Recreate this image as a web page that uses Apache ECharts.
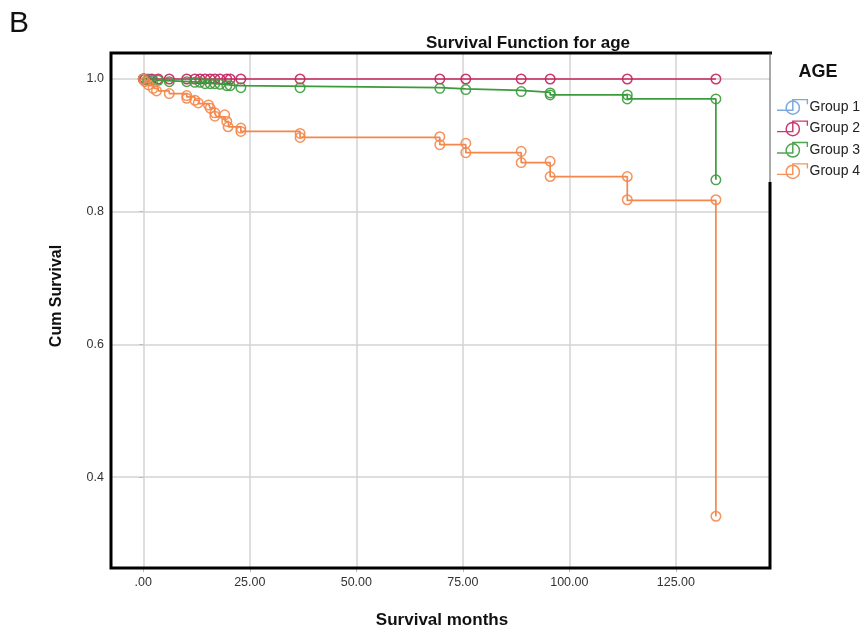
<!DOCTYPE html>
<html>
<head>
<meta charset="utf-8">
<script src="https://cdn.jsdelivr.net/npm/echarts@6/dist/echarts.min.js"></script>
<style>html,body{margin:0;padding:0;background:#fff}#c{width:864px;height:632px}</style>
</head>
<body>
<div id="c"></div>
<script>
// ---- data ----
const groupNames = ['Group 1', 'Group 2', 'Group 3', 'Group 4'];
const xTicks = [0, 25, 50, 75, 100, 125];
const yTicks = [0.4, 0.6, 0.8, 1.0];

// Kaplan-Meier step points [months, cum survival]
const g1Steps = [[0, 1.0], [2.3, 1.0]];
const g1Cens = [[0, 1.0], [1.2, 1.0]];

const g2Steps = [[0, 1.0], [134.4, 1.0]];
const g2Cens = [[0, 1.0], [0.4, 1.0], [2, 1.0], [3.5, 1.0], [6.1, 1.0], [10.2, 1.0], [12.1, 1.0], [13.3, 1.0],
  [14.5, 1.0], [15.7, 1.0], [16.8, 1.0], [18, 1.0], [19.6, 1.0], [20.4, 1.0], [22.9, 1.0], [36.8, 1.0],
  [69.6, 1.0], [75.7, 1.0], [88.7, 1.0], [95.5, 1.0], [113.6, 1.0], [134.4, 1.0]];

const g3Steps = [[0, 1.0], [1, 0.998], [4, 0.996], [11, 0.995], [14, 0.993], [17, 0.992], [19, 0.990],
  [22, 0.987], [69.6, 0.985], [75.7, 0.983], [88.7, 0.980], [95.5, 0.976], [113.6, 0.970],
  [134.4, 0.970], [134.4, 0.848]];
const g3Cens = [[0, 1.0], [1, 0.998], [2.3, 0.998], [3.5, 0.998], [6.1, 0.996], [10.2, 0.996], [12.1, 0.995],
  [13.3, 0.995], [14.5, 0.993], [15.7, 0.993], [16.8, 0.993], [18, 0.992], [19.6, 0.990], [20.4, 0.990],
  [22.9, 0.987], [36.8, 0.987], [69.6, 0.986], [75.7, 0.984], [88.7, 0.981], [95.5, 0.979], [95.5, 0.976],
  [113.6, 0.976], [113.6, 0.970], [134.4, 0.970], [134.4, 0.848]];

const g4Steps = [[0, 1.0], [0.5, 0.995], [1.5, 0.990], [2.5, 0.986], [3.5, 0.982], [6.1, 0.978], [10.2, 0.973],
  [12.1, 0.968], [13.0, 0.963], [15.3, 0.961], [15.7, 0.956], [16.8, 0.948], [17.2, 0.943], [19.2, 0.936],
  [20.0, 0.928], [22.9, 0.921], [36.8, 0.912], [69.6, 0.901], [75.7, 0.889], [88.7, 0.874], [95.5, 0.853],
  [113.6, 0.817], [134.4, 0.817], [134.4, 0.341]];
const g4Cens = [[0, 1.0], [0.4, 0.996], [1.2, 0.991], [2.3, 0.986], [3.1, 0.982], [6.1, 0.978], [10.2, 0.975],
  [10.2, 0.971], [12.1, 0.968], [12.9, 0.964], [15.3, 0.961], [15.7, 0.956], [16.8, 0.949], [16.8, 0.944],
  [19.1, 0.946], [19.6, 0.936], [19.9, 0.928], [22.9, 0.926], [22.9, 0.921], [36.8, 0.918], [36.8, 0.912],
  [69.6, 0.913], [69.6, 0.901], [75.7, 0.903], [75.7, 0.889], [88.7, 0.891], [88.7, 0.874], [95.5, 0.876],
  [95.5, 0.853], [113.6, 0.853], [113.6, 0.818], [134.4, 0.818], [134.4, 0.341]];

const stepsList = [g1Steps, g2Steps, g3Steps, g4Steps];
const censList = [g1Cens, g2Cens, g3Cens, g4Cens];
const colors = ['#6e9fd9', '#c6245e', '#3c9b3c', '#f4874b'];

// ---- chart ----
const chart = echarts.init(document.getElementById('c'), null, { renderer: 'canvas' });
const FONT = 'Liberation Sans, Arial, sans-serif';
const G = { left: 111, top: 53, right: 770, bottom: 568 };

const series = [];
groupNames.forEach((name, i) => {
  series.push({
    name, type: 'line', step: 'end', data: stepsList[i], showSymbol: false, symbol: 'none',
    color: colors[i], itemStyle: { color: colors[i] }, lineStyle: { width: 1.7, color: colors[i] },
    z: 3 + i, silent: true, animation: false
  });
  series.push({
    name, type: 'scatter', data: censList[i], symbol: 'circle', symbolSize: 9.5,
    itemStyle: { color: 'rgba(255,255,255,0)', borderColor: colors[i], borderWidth: 1.5, opacity: 0.9 },
    z: 3 + i, silent: true, animation: false
  });
});

// legend glyph: "-Φ¬" drawn as filled outline shapes (box 0..30 x 0..16)
const iconPath = 'path://' +
  'M0 10.6 H15.7 V11.9 H0 Z ' +
  'M14.3 0.6 H15.7 V11.9 H14.3 Z ' +
  'M14.3 0.6 H29.5 V1.9 H14.3 Z ' +
  'M28.2 0.6 H29.5 V5.6 H28.2 Z ' +
  'M22 8.8 A7 7 0 1 1 8 8.8 A7 7 0 1 1 22 8.8 Z ' +
  'M20.6 8.8 A5.6 5.6 0 1 0 9.4 8.8 A5.6 5.6 0 1 0 20.6 8.8 Z';

chart.setOption({
  animation: false,
  color: colors,
  textStyle: { fontFamily: FONT },
  grid: { left: G.left, top: G.top, right: 864 - G.right, bottom: 632 - G.bottom, show: false },
  xAxis: {
    type: 'value', min: -7.58, max: 147.1,
    axisLine: { show: false },
    axisTick: { show: true, length: 4, lineStyle: { color: '#bbb' }, customValues: xTicks },
    axisLabel: { customValues: xTicks, margin: 8, fontSize: 12.5, color: '#333', fontFamily: FONT,
      formatter: v => (v === 0 ? '.00' : v.toFixed(2)) },
    splitLine: { show: true, lineStyle: { color: '#d3d3d3', width: 1.5 } }
  },
  yAxis: {
    type: 'value', min: 0.263, max: 1.0392,
    axisLine: { show: false },
    axisTick: { show: true, length: 4, lineStyle: { color: '#bbb' }, customValues: yTicks },
    axisLabel: { customValues: yTicks, margin: 7, fontSize: 12.5, color: '#333', fontFamily: FONT,
      formatter: v => v.toFixed(1) },
    splitLine: { show: true, lineStyle: { color: '#d3d3d3', width: 1.5 } }
  },
  legend: {
    data: groupNames.map((n, i) => ({ name: n, icon: iconPath, itemStyle: { color: colors[i], borderWidth: 0, opacity: 0.9 } })),
    orient: 'vertical', left: 772, top: 94, itemWidth: 32, itemHeight: 16, itemGap: 5.4,
    textStyle: { fontSize: 14, color: '#222', fontFamily: FONT, padding: [0, 0, 0, -4] },
    selectedMode: false
  },
  title: {
    text: 'Survival Function for age', left: 523, top: 30, textAlign: 'center',
    textStyle: { fontSize: 17, fontWeight: 'bold', color: '#111', fontFamily: FONT }
  },
  graphic: [
    { type: 'text', left: 9, top: 9, style: { text: 'B', fontSize: 30, fill: '#111', fontFamily: FONT } },
    { type: 'text', x: 818, y: 72, style: { text: 'AGE', fontSize: 18, fontWeight: 'bold', fill: '#111',
      fontFamily: FONT, align: 'center', verticalAlign: 'middle' } },
    { type: 'text', x: 57, y: 296, rotation: Math.PI / 2, style: { text: 'Cum Survival', fontSize: 16,
      fontWeight: 'bold', fill: '#111', fontFamily: FONT, align: 'center', verticalAlign: 'middle' } },
    { type: 'text', x: 442, y: 620, style: { text: 'Survival months', fontSize: 17, fontWeight: 'bold',
      fill: '#111', fontFamily: FONT, align: 'center', verticalAlign: 'middle' } },
    // frame
    { type: 'polyline', z: 10, shape: { points: [[G.right, 182], [G.right, G.bottom], [G.left, G.bottom], [G.left, G.top], [G.right + 2, G.top]] },
      style: { stroke: '#000', lineWidth: 3, fill: null } },
    { type: 'line', z: 10, shape: { x1: G.right, y1: G.top, x2: G.right, y2: 182 },
      style: { stroke: '#555', lineWidth: 1 } }
  ],
  series
});
</script>
</body>
</html>
